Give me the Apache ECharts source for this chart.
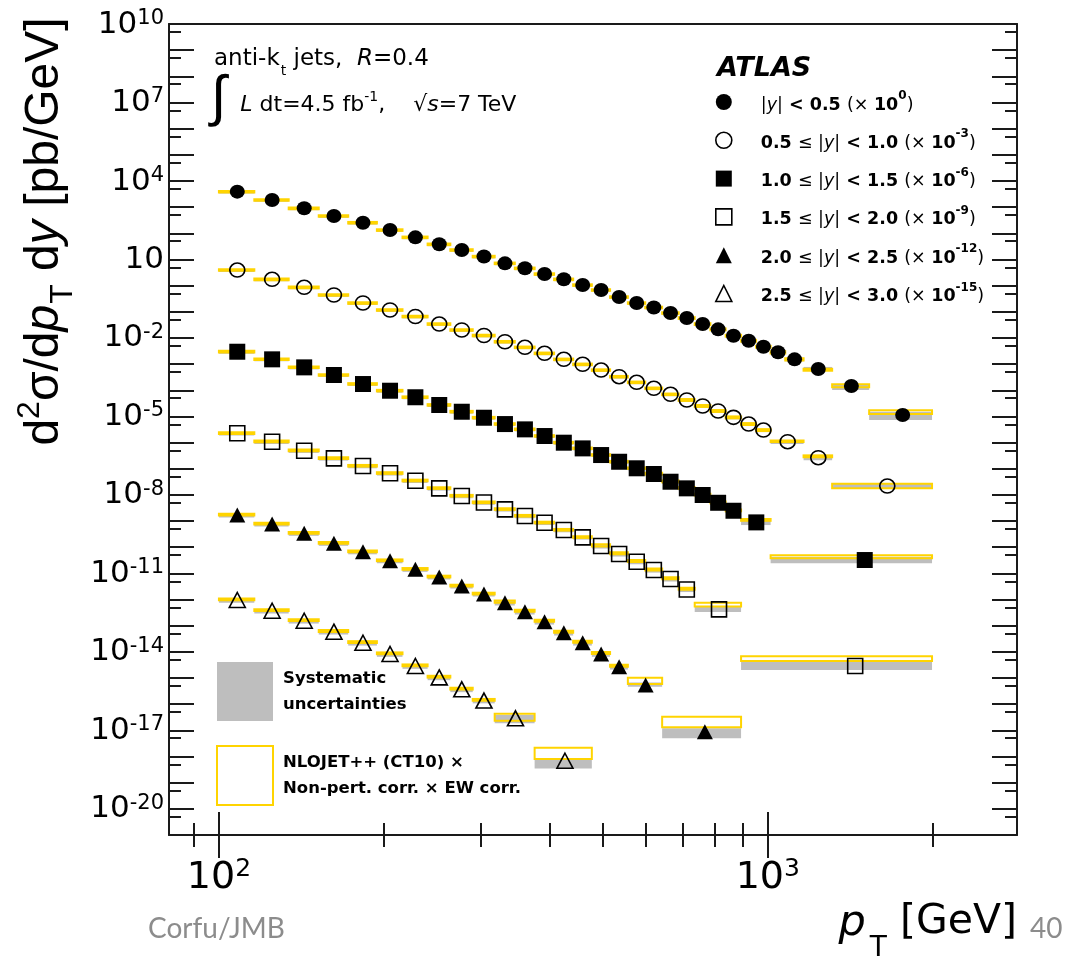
<!DOCTYPE html>
<html><head><meta charset="utf-8">
<script src="https://cdn.jsdelivr.net/npm/echarts@6/dist/echarts.min.js"></script>
<style>html,body{margin:0;padding:0;background:#fff}#c{width:1076px;height:962px}</style>
</head><body><div id="c"></div>
<script>
// ---------- data (plotted values, already multiplied by the legend scale factors) ----------
const ptBinsY1 = [100,116,134,152,172,194,216,240,264,290,318,346,376,408,442,478,516,556,598,642,688,736,786,838,894,952,1012,1076,1162,1310,1530,1992];
const ptBinsY2 = [100,116,134,152,172,194,216,240,264,290,318,346,376,408,442,478,516,556,598,642,688,736,786,838,894,952,1012,1162,1310,1992];
const ptBinsY3 = [100,116,134,152,172,194,216,240,264,290,318,346,376,408,442,478,516,556,598,642,688,736,786,838,894,1012,1992];
const ptBinsY4 = [100,116,134,152,172,194,216,240,264,290,318,346,376,408,442,478,516,556,598,642,688,736,894,1992];
const ptBinsY5 = [100,116,134,152,172,194,216,240,264,290,318,346,376,408,442,478,516,556,642,894];
const ptBinsY6 = [100,116,134,152,172,194,216,240,264,290,318,376,478];

const xsecY1 = [3.9e3,1.87e3,902,458,254,133,70.1,37.9,23.0,12.9,7.11,4.58,2.77,1.74,1.05,0.679,0.366,0.216,0.146,0.0897,0.0577,0.0340,0.0213,0.0122,0.00783,0.00461,0.00282,0.00152,6.49e-4,1.45e-4,1.13e-5];
const xsecY2 = [3.94,1.74,0.861,0.438,0.216,0.117,0.0659,0.0340,0.0201,0.01239,0.00716,0.00438,0.00258,0.00152,9.8e-4,5.9e-4,3.3e-4,2.01e-4,1.19e-4,7.0e-5,4.24e-5,2.5e-5,1.61e-5,9.2e-6,5.1e-6,3.0e-6,1.08e-6,2.64e-7,2.18e-8];
const xsecY3 = [2.97e-3,1.52e-3,7.5e-4,3.83e-4,1.73e-4,9.6e-5,5.4e-5,2.73e-5,1.51e-5,8.9e-6,5.1e-6,3.2e-6,1.78e-6,9.9e-7,6.0e-7,3.34e-7,1.85e-7,1.04e-7,6.3e-8,3.19e-8,1.78e-8,9.9e-9,5.0e-9,2.48e-9,8.9e-10,3.24e-11];
const xsecY4 = [2.26e-6,1.08e-6,4.9e-7,2.5e-7,1.27e-7,6.7e-8,3.48e-8,1.78e-8,9.1e-9,5.1e-9,2.81e-9,1.56e-9,8.6e-10,4.54e-10,2.39e-10,1.11e-10,5.5e-11,2.79e-11,1.34e-11,6.1e-12,2.42e-12,4.2e-13,2.88e-15];
const xsecY5 = [1.70e-9,7.7e-10,3.40e-10,1.41e-10,6.7e-11,3.05e-11,1.43e-11,7.3e-12,3.29e-12,1.63e-12,7.6e-13,3.43e-13,1.42e-13,5.4e-14,2.23e-14,8.3e-15,2.70e-15,5.4e-16,8.9e-18];
const xsecY6 = [9.6e-13,3.74e-13,1.55e-13,5.9e-14,2.23e-14,8.3e-15,2.88e-15,1.06e-15,3.70e-16,1.38e-16,2.88e-17,6.9e-19];

// NLOJET++ prediction band, as [low, high] relative to the measured value
const theoryY1 = [[0.93,1.07],[0.93,1.07],[0.93,1.07],[0.93,1.07],[0.93,1.07],[0.93,1.07],[0.93,1.07],[0.93,1.07],[0.93,1.07],[0.93,1.07],[0.93,1.07],[0.93,1.07],[0.93,1.07],[0.93,1.07],[0.93,1.07],[0.93,1.07],[0.93,1.07],[0.93,1.07],[0.93,1.07],[0.93,1.07],[0.92,1.08],[0.92,1.08],[0.92,1.08],[0.92,1.08],[0.92,1.08],[0.92,1.08],[0.91,1.09],[0.91,1.10],[0.86,1.02],[0.89,1.16],[1.10,1.51]];
const theoryY2 = [[0.93,1.07],[0.93,1.07],[0.93,1.07],[0.93,1.07],[0.93,1.07],[0.93,1.07],[0.93,1.07],[0.93,1.07],[0.93,1.07],[0.93,1.07],[0.93,1.07],[0.93,1.07],[0.93,1.07],[0.93,1.07],[0.93,1.07],[0.93,1.07],[0.93,1.07],[0.93,1.07],[0.93,1.07],[0.93,1.07],[0.92,1.09],[0.92,1.09],[0.92,1.09],[0.92,1.09],[0.92,1.09],[0.92,1.09],[0.97,1.10],[1.04,1.23],[0.82,1.22]];
const theoryY3 = [[0.94,1.08],[0.94,1.08],[0.94,1.08],[0.94,1.08],[0.94,1.08],[0.94,1.08],[0.94,1.08],[0.94,1.08],[0.94,1.08],[0.94,1.08],[0.94,1.08],[0.94,1.08],[0.94,1.08],[0.94,1.08],[0.94,1.08],[0.94,1.08],[0.94,1.08],[0.94,1.08],[0.95,1.12],[0.95,1.12],[0.95,1.12],[0.95,1.12],[0.95,1.12],[0.95,1.12],[1.15,1.35],[1.16,1.51]];
const theoryY4 = [[0.95,1.10],[0.95,1.10],[0.95,1.10],[0.95,1.10],[0.95,1.10],[0.95,1.10],[0.95,1.10],[0.95,1.10],[0.95,1.10],[0.95,1.10],[0.95,1.10],[0.95,1.10],[0.95,1.10],[0.95,1.10],[0.95,1.10],[0.97,1.16],[0.97,1.16],[0.97,1.16],[0.97,1.16],[0.97,1.16],[0.97,1.16],[1.30,1.78],[1.55,2.34]];
const theoryY5 = [[0.96,1.12],[0.96,1.12],[0.96,1.12],[0.96,1.12],[0.96,1.12],[0.96,1.12],[0.96,1.12],[0.96,1.12],[0.96,1.12],[0.96,1.12],[1.00,1.20],[1.00,1.20],[1.00,1.20],[1.00,1.20],[1.00,1.20],[1.00,1.20],[1.00,1.20],[1.10,1.90],[1.48,3.70]];
const theoryY6 = [[0.98,1.15],[0.98,1.15],[0.98,1.15],[0.98,1.15],[0.98,1.15],[0.98,1.15],[0.98,1.15],[0.98,1.15],[0.98,1.15],[0.98,1.15],[0.81,1.51],[1.16,3.16]];

// systematic uncertainty band, as [low, high] relative to the measured value
const systY1 = [[0.85,1.05],[0.85,1.05],[0.85,1.05],[0.85,1.05],[0.85,1.05],[0.85,1.05],[0.85,1.05],[0.85,1.05],[0.85,1.05],[0.85,1.05],[0.85,1.05],[0.85,1.05],[0.85,1.05],[0.85,1.05],[0.85,1.05],[0.85,1.05],[0.85,1.05],[0.85,1.05],[0.85,1.05],[0.85,1.05],[0.84,1.08],[0.84,1.08],[0.84,1.08],[0.84,1.08],[0.84,1.08],[0.84,1.08],[0.84,1.08],[0.84,1.08],[0.83,1.20],[0.71,1.15],[0.65,1.34]];
const systY2 = [[0.85,1.05],[0.85,1.05],[0.85,1.05],[0.85,1.05],[0.85,1.05],[0.85,1.05],[0.85,1.05],[0.85,1.05],[0.85,1.05],[0.85,1.05],[0.85,1.05],[0.85,1.05],[0.85,1.05],[0.85,1.05],[0.85,1.05],[0.85,1.05],[0.85,1.05],[0.85,1.05],[0.85,1.05],[0.85,1.05],[0.84,1.10],[0.84,1.10],[0.84,1.10],[0.84,1.10],[0.84,1.10],[0.84,1.10],[0.82,1.15],[0.80,1.20],[0.79,1.26]];
const systY3 = [[0.84,1.06],[0.84,1.06],[0.84,1.06],[0.84,1.06],[0.84,1.06],[0.84,1.06],[0.84,1.06],[0.84,1.06],[0.84,1.06],[0.84,1.06],[0.84,1.06],[0.84,1.06],[0.84,1.06],[0.84,1.06],[0.84,1.06],[0.84,1.06],[0.84,1.06],[0.84,1.06],[0.82,1.12],[0.82,1.12],[0.82,1.12],[0.82,1.12],[0.82,1.12],[0.82,1.12],[0.79,1.26],[0.75,1.34]];
const systY4 = [[0.82,1.08],[0.82,1.08],[0.82,1.08],[0.82,1.08],[0.82,1.08],[0.82,1.08],[0.82,1.08],[0.82,1.08],[0.82,1.08],[0.82,1.08],[0.82,1.08],[0.82,1.08],[0.82,1.08],[0.82,1.08],[0.82,1.08],[0.80,1.15],[0.80,1.15],[0.80,1.15],[0.80,1.15],[0.80,1.15],[0.80,1.15],[0.80,1.30],[0.71,1.41]];
const systY5 = [[0.80,1.10],[0.80,1.10],[0.80,1.10],[0.80,1.10],[0.80,1.10],[0.80,1.10],[0.80,1.10],[0.80,1.10],[0.80,1.10],[0.80,1.10],[0.78,1.15],[0.78,1.15],[0.78,1.15],[0.78,1.15],[0.78,1.15],[0.78,1.15],[0.78,1.15],[0.86,1.26],[0.56,1.35]];
const systY6 = [[0.78,1.12],[0.78,1.12],[0.78,1.12],[0.78,1.12],[0.78,1.12],[0.78,1.12],[0.78,1.12],[0.78,1.12],[0.78,1.12],[0.78,1.12],[0.65,1.34],[0.51,1.26]];

// tick values
const xLabelTicks = [100, 1000];
const xMinorTicks = [90, 200, 300, 400, 500, 600, 700, 800, 900, 2000];
const yMajorTicks = [1e-21,1e-20,1e-19,1e-18,1e-17,1e-16,1e-15,1e-14,1e-13,1e-12,1e-11,1e-10,1e-9,1e-8,1e-7,1e-6,1e-5,1e-4,1e-3,1e-2,1e-1,1,1e1,1e2,1e3,1e4,1e5,1e6,1e7,1e8,1e9,1e10];
const yMinorTicks = [5e-21,5e-20,5e-19,5e-18,5e-17,5e-16,5e-15,5e-14,5e-13,5e-12,5e-11,5e-10,5e-9,5e-8,5e-7,5e-6,5e-5,5e-4,5e-3,5e-2,5e-1,5,5e1,5e2,5e3,5e4,5e5,5e6,5e7,5e8,5e9];
const yLabelTicks = [1e-20,1e-17,1e-14,1e-11,1e-8,1e-5,1e-2,1e1,1e4,1e7,1e10];

const seriesNames = ['y1','y2','y3','y4','y5','y6'];
const legendLabels = {
  y1: '{n||}{i|y}{n||}{b| < 0.5 }{n|(× }{b|10}{s|0}{n|)}',
  y2: '{b|0.5 }{n|≤ |}{i|y}{n||}{b| < 1.0 }{n|(× }{b|10}{s|-3}{n|)}',
  y3: '{b|1.0 }{n|≤ |}{i|y}{n||}{b| < 1.5 }{n|(× }{b|10}{s|-6}{n|)}',
  y4: '{b|1.5 }{n|≤ |}{i|y}{n||}{b| < 2.0 }{n|(× }{b|10}{s|-9}{n|)}',
  y5: '{b|2.0 }{n|≤ |}{i|y}{n||}{b| < 2.5 }{n|(× }{b|10}{s|-12}{n|)}',
  y6: '{b|2.5 }{n|≤ |}{i|y}{n||}{b| < 3.0 }{n|(× }{b|10}{s|-15}{n|)}'
};

// ---------- chart ----------
const FONT = '"Liberation Sans", Arial, Helvetica, sans-serif';
const WFONT = '"DejaVu Sans", "Liberation Sans", sans-serif';
const YELLOW = '#FFD400';
const GREY = '#BEBEBE';
const AXC = '#1a1a1a';

const allBins = [ptBinsY1, ptBinsY2, ptBinsY3, ptBinsY4, ptBinsY5, ptBinsY6];
const allVals = [xsecY1, xsecY2, xsecY3, xsecY4, xsecY5, xsecY6];
const allTh = [theoryY1, theoryY2, theoryY3, theoryY4, theoryY5, theoryY6];
const allSys = [systY1, systY2, systY3, systY4, systY5, systY6];
const markerStyle = [
  {symbol:'circle', size:[15,14], fill:'#000'},
  {symbol:'circle', size:[15,14], fill:null},
  {symbol:'rect', size:16, fill:'#000'},
  {symbol:'rect', size:15, fill:null},
  {symbol:'triangle', size:[16,15], fill:'#000'},
  {symbol:'triangle', size:[16,15], fill:null}
];

const sysData = [], thData = [];
allBins.forEach((bins, s) => {
  allVals[s].forEach((v, i) => {
    sysData.push([bins[i], bins[i+1], v * allSys[s][i][0], v * allSys[s][i][1]]);
    thData.push([bins[i], bins[i+1], v * allTh[s][i][0], v * allTh[s][i][1]]);
  });
});

function boxRenderer(styleFn) {
  return function (params, api) {
    const a = api.coord([api.value(0), api.value(3)]);
    const b = api.coord([api.value(1), api.value(2)]);
    return {type: 'rect', shape: {x: a[0], y: a[1], width: b[0] - a[0], height: b[1] - a[1]}, style: styleFn()};
  };
}

const series = [
  {name: 'sys', type: 'custom', coordinateSystem: 'cartesian2d', xAxisIndex: 0, yAxisIndex: 0,
   encode: {x: [0, 1], y: [2, 3]}, data: sysData, z: 1, silent: true,
   itemStyle: {color: GREY},
   renderItem: boxRenderer(() => ({fill: GREY}))},
  {name: 'nlo', type: 'custom', coordinateSystem: 'cartesian2d', xAxisIndex: 0, yAxisIndex: 0,
   encode: {x: [0, 1], y: [2, 3]}, data: thData, z: 2, silent: true,
   itemStyle: {color: '#fff', borderColor: YELLOW, borderWidth: 2},
   renderItem: boxRenderer(() => ({fill: 'none', stroke: YELLOW, lineWidth: 2}))}
];
seriesNames.forEach((nm, s) => {
  const bins = allBins[s];
  const m = markerStyle[s];
  series.push({
    name: nm, type: 'scatter', xAxisIndex: 0, yAxisIndex: 0, z: 5, silent: true,
    symbol: m.symbol, symbolSize: m.size,
    itemStyle: m.fill ? {color: m.fill, opacity: 1} : {color: 'rgba(255,255,255,0)', borderColor: '#000', borderWidth: 1.6, opacity: 1},
    data: allVals[s].map((v, i) => [(bins[i] + bins[i+1]) / 2, v])
  });
});

function supLabel(v) {
  const e = Math.round(Math.log10(v));
  return e === 1 ? '{b|10}' : '{b|10}{s|' + e + '}';
}

const baseLog = (extra) => Object.assign({
  type: 'log', logBase: 10, gridIndex: 0,
  splitLine: {show: false}, minorTick: {show: false}, minorSplitLine: {show: false}
}, extra);

const X_MIN = 81.1, X_MAX = 2845, Y_MIN = 1e-21, Y_MAX = 1e10;
const tickLine = {color: AXC, width: 2};
// decade exponents for the long x ticks, drawn on a linear axis in log10(pT)
const xDecadeExp = xLabelTicks.map(v => Math.log10(v));
const decadeAxis = (pos) => ({
  type: 'value', gridIndex: 0, position: pos, min: Math.log10(X_MIN), max: Math.log10(X_MAX),
  axisLine: {show: false}, splitLine: {show: false}, axisLabel: {show: false},
  axisTick: {show: true, inside: true, length: 23, lineStyle: tickLine, customValues: xDecadeExp}
});

const xAxes = [
  baseLog({position: 'bottom', min: X_MIN, max: X_MAX,
    axisLine: {show: true, onZero: false, lineStyle: {color: AXC, width: 2}},
    axisTick: {show: false},
    axisLabel: {show: true, customValues: xLabelTicks, margin: 22, formatter: supLabel,
      rich: {b: {fontSize: 38, fontFamily: WFONT, color: '#000', lineHeight: 40, verticalAlign: 'bottom'},
             s: {fontSize: 25, fontFamily: WFONT, color: '#000', lineHeight: 25, verticalAlign: 'top'}}},
    name: '{xi|p}{xs|T}{x| [GeV]}', nameLocation: 'end', nameGap: 0,
    nameTextStyle: {align: 'right', verticalAlign: 'top', padding: [67, 0, 0, 0],
      rich: {xi: {fontSize: 43, fontFamily: WFONT, fontStyle: 'italic', color: '#000', lineHeight: 46, verticalAlign: 'top'},
             xs: {fontSize: 28, fontFamily: WFONT, color: '#000', lineHeight: 28, padding: [33, 0, 0, 4], verticalAlign: 'top'},
             x: {fontSize: 41, fontFamily: WFONT, color: '#000', lineHeight: 46, verticalAlign: 'top'}}}
  }),
  baseLog({position: 'bottom', min: X_MIN, max: X_MAX, axisLine: {show: false},
    axisTick: {show: true, inside: true, length: 12, lineStyle: tickLine, customValues: xMinorTicks},
    axisLabel: {show: false}}),
  baseLog({position: 'top', min: X_MIN, max: X_MAX,
    axisLine: {show: true, onZero: false, lineStyle: {color: AXC, width: 2}},
    axisTick: {show: false},
    axisLabel: {show: false}}),
  baseLog({position: 'top', min: X_MIN, max: X_MAX, axisLine: {show: false},
    axisTick: {show: true, inside: true, length: 12, lineStyle: tickLine, customValues: xMinorTicks},
    axisLabel: {show: false}}),
  decadeAxis('bottom'),
  decadeAxis('top')
];

const yAxes = [
  baseLog({position: 'left', min: Y_MIN, max: Y_MAX,
    axisLine: {show: true, onZero: false, lineStyle: {color: AXC, width: 2}},
    axisTick: {show: true, inside: true, length: 25, lineStyle: tickLine, customValues: yMajorTicks},
    axisLabel: {show: true, customValues: yLabelTicks, margin: 5, formatter: supLabel,
      rich: {b: {fontSize: 31, fontFamily: WFONT, color: '#000', lineHeight: 32, verticalAlign: 'bottom'},
             s: {fontSize: 21, fontFamily: WFONT, color: '#000', lineHeight: 21, verticalAlign: 'top'}}},
    name: '{t|d}{ts|2}{t|σ/d}{ti|p}{tb|T}{t| d}{ti|y}{t| [pb/GeV]}', nameLocation: 'middle', nameRotate: 90, nameGap: 96,
    nameTextStyle: {padding: [0, 0, 0, 396],
      rich: {t: {fontSize: 48, fontFamily: FONT, color: '#000', lineHeight: 50, verticalAlign: 'top', padding: [6, 0, 0, 0]},
             ti: {fontSize: 48, fontFamily: FONT, fontStyle: 'italic', color: '#000', lineHeight: 50, verticalAlign: 'top', padding: [6, 0, 0, 0]},
             ts: {fontSize: 32, fontFamily: FONT, color: '#000', lineHeight: 32, verticalAlign: 'top'},
             tb: {fontSize: 32, fontFamily: FONT, color: '#000', lineHeight: 32, verticalAlign: 'top', padding: [33, 0, 0, 1]}}}
  }),
  baseLog({position: 'left', min: Y_MIN, max: Y_MAX, axisLine: {show: false},
    axisTick: {show: true, inside: true, length: 12, lineStyle: tickLine, customValues: yMinorTicks},
    axisLabel: {show: false}}),
  baseLog({position: 'right', min: Y_MIN, max: Y_MAX,
    axisLine: {show: true, onZero: false, lineStyle: {color: AXC, width: 2}},
    axisTick: {show: true, inside: true, length: 25, lineStyle: tickLine, customValues: yMajorTicks},
    axisLabel: {show: false}}),
  baseLog({position: 'right', min: Y_MIN, max: Y_MAX, axisLine: {show: false},
    axisTick: {show: true, inside: true, length: 12, lineStyle: tickLine, customValues: yMinorTicks},
    axisLabel: {show: false}})
];

const legendRich = {
  b: {fontSize: 17.5, fontWeight: 'bold', fontFamily: WFONT, color: '#000', lineHeight: 24, verticalAlign: 'bottom'},
  n: {fontSize: 17.5, fontWeight: 'normal', fontFamily: WFONT, color: '#000', lineHeight: 24, verticalAlign: 'bottom'},
  i: {fontSize: 17.5, fontWeight: 'normal', fontStyle: 'italic', fontFamily: WFONT, color: '#000', lineHeight: 24, verticalAlign: 'bottom'},
  s: {fontSize: 12, fontWeight: 'bold', fontFamily: WFONT, color: '#000', lineHeight: 12, verticalAlign: 'top'}
};
const annot = (extra) => Object.assign({fontSize: 22, fontWeight: 'normal', fontFamily: WFONT, color: '#000', lineHeight: 26, verticalAlign: 'top'}, extra);

const openStyle = {color: 'rgba(255,255,255,0)', borderColor: '#000', borderWidth: 1.6};
const option = {
  animation: false,
  backgroundColor: '#fff',
  grid: {left: 169, right: 59, top: 24, bottom: 127, containLabel: false, outerBoundsMode: 'none'},
  xAxis: xAxes,
  yAxis: yAxes,
  title: [
    {text: 'ATLAS', left: 717, top: 55, padding: 0,
     textStyle: {fontSize: 27, fontWeight: 'bold', fontStyle: 'italic', fontFamily: WFONT, color: '#000'}},
    {text: '{a|anti-k}{sub|t}{a| jets,  }{ai|R}{a|=0.4}', left: 214, top: 48, padding: 0,
     textStyle: {fontWeight: 'normal', rich: {
       a: annot({fontSize: 23}), ai: annot({fontSize: 23, fontStyle: 'italic'}),
       sub: annot({fontSize: 14, lineHeight: 14, padding: [16, 0, 0, 1]})}}},
    {text: '{int|∫}{a|  }{ai|L}{a| dt=4.5 fb}{sup|-1}{a|,    √}{ai|s}{a|=7 TeV}', left: 211, top: 72, padding: 0,
     textStyle: {fontWeight: 'normal', rich: {
       int: annot({fontSize: 56, lineHeight: 64, fontFamily: FONT}),
       a: annot({padding: [22, 0, 0, 0]}), ai: annot({fontStyle: 'italic', padding: [22, 0, 0, 0]}),
       sup: annot({fontSize: 14, lineHeight: 14, padding: [18, 0, 0, 0]})}}},
    {text: 'Corfu/JMB', left: 148, top: 915, padding: 0,
     textStyle: {fontSize: 28, fontWeight: 'normal', fontFamily: 'Lato, "Open Sans", sans-serif', color: '#8c8c8c'}},
    {text: '40', left: 1030, top: 915, padding: 0,
     textStyle: {fontSize: 28, fontWeight: 'normal', fontFamily: 'Lato, "Open Sans", sans-serif', color: '#8c8c8c'}}
  ],
  legend: [
    {orient: 'vertical', left: 715, top: 90, padding: 0, itemWidth: 16, itemHeight: 16, itemGap: 14.3,
     selectedMode: false,
     data: [
       {name: 'y1', icon: 'circle', itemStyle: {color: '#000'}},
       {name: 'y2', icon: 'circle', itemStyle: openStyle},
       {name: 'y3', icon: 'rect', itemStyle: {color: '#000'}},
       {name: 'y4', icon: 'rect', itemStyle: openStyle},
       {name: 'y5', icon: 'triangle', itemStyle: {color: '#000'}},
       {name: 'y6', icon: 'triangle', itemStyle: openStyle}
     ],
     formatter: (nm) => legendLabels[nm],
     textStyle: {padding: [0, 0, 0, 24], rich: legendRich}},
    {orient: 'vertical', left: 216, top: 662, padding: 0, itemWidth: 56, itemHeight: 59, itemGap: 24,
     selectedMode: false,
     data: [
       {name: 'sys', icon: 'rect', itemStyle: {color: GREY}},
       {name: 'nlo', icon: 'rect', itemStyle: {color: '#fff', borderColor: YELLOW, borderWidth: 2}}
     ],
     formatter: (nm) => nm === 'sys' ? 'Systematic\nuncertainties' : 'NLOJET++ (CT10) ×\nNon-pert. corr. × EW corr.',
     textStyle: {fontSize: 16.5, fontWeight: 'bold', fontFamily: WFONT, color: '#000', lineHeight: 26, padding: [0, 0, 0, 5]}}
  ],
  series: series
};

const chart = echarts.init(document.getElementById('c'), null, {renderer: 'canvas'});
chart.setOption(option);
</script>
</body></html>
